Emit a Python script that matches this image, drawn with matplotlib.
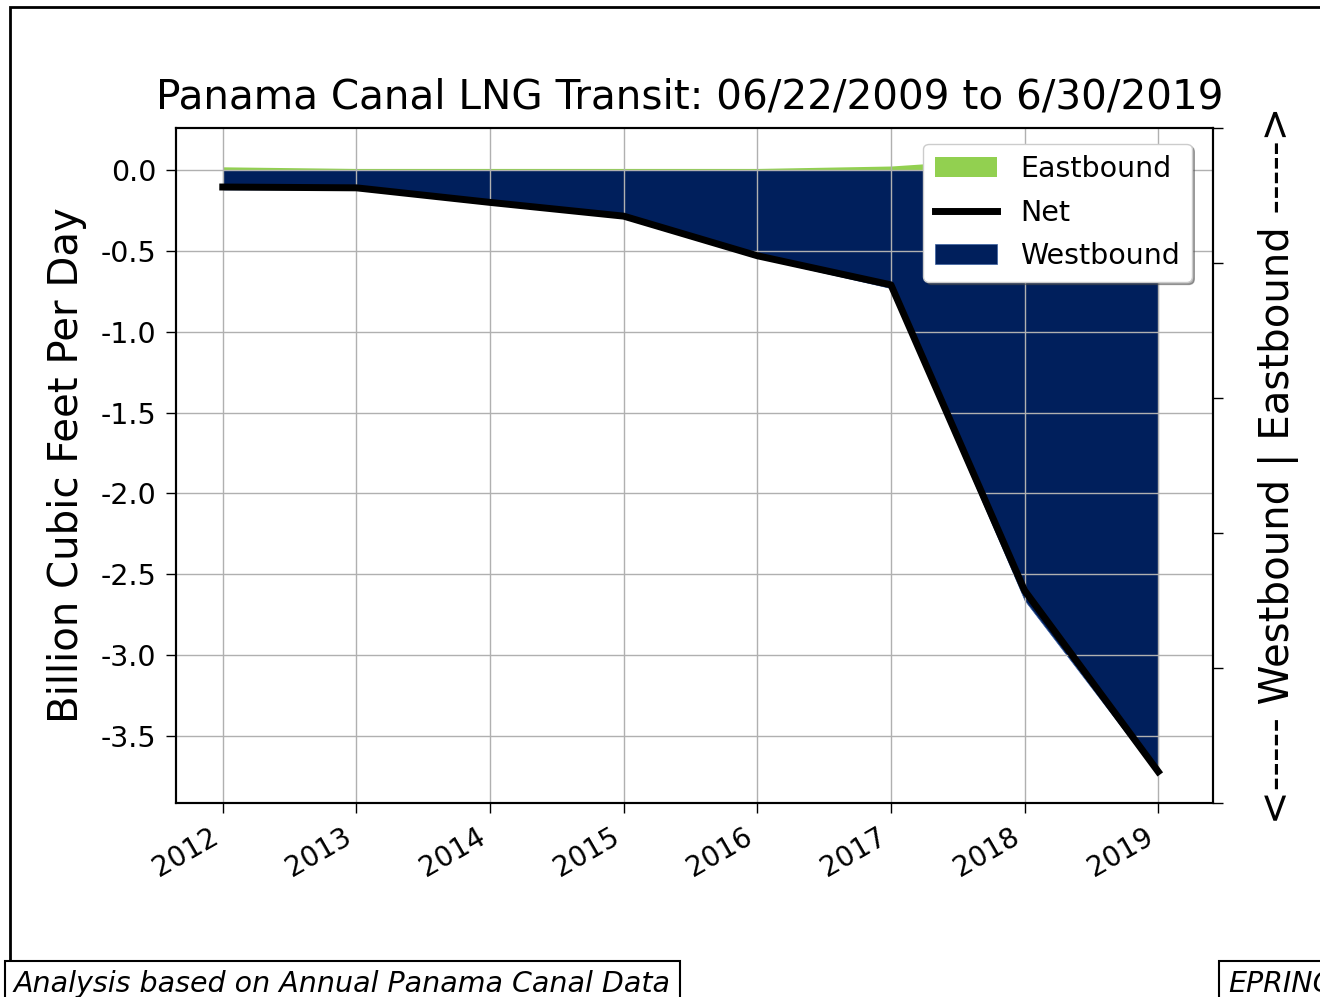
import matplotlib
matplotlib.use("Agg")
import matplotlib.pyplot as plt
from matplotlib.patches import Rectangle

years = [2012, 2013, 2014, 2015, 2016, 2017, 2018, 2019]
net = [-0.105, -0.11, -0.20, -0.285, -0.53, -0.71, -2.60, -3.72]
eastbound = [0.02, 0.01, 0.01, 0.01, 0.01, 0.025, 0.08, 0.03]
westbound = [-0.12, -0.12, -0.21, -0.29, -0.54, -0.73, -2.66, -3.74]
yticks = [0.0, -0.5, -1.0, -1.5, -2.0, -2.5, -3.0, -3.5]

fig = plt.figure(figsize=(13.2, 9.97), dpi=100)
ax = fig.add_axes([176/1320, 1-803/997, (1213-176)/1320, (803-128)/997])

ax.fill_between(years, 0, eastbound, color='#92d050', label='Eastbound', linewidth=0)
ax.fill_between(years, 0, westbound, color='#001f5c', label='Westbound', linewidth=0.5, edgecolor='#3a5fa0')
ax.plot(years, net, color='black', linewidth=5, label='Net')
ax.grid(True, color='#b0b0b0', linewidth=1.0)

ax.set_xlim(2011.65, 2019.41)
ax.set_ylim(-3.914, 0.26)
ax.set_xticks(years)
ax.set_xticklabels([str(y) for y in years], rotation=30, ha='right', fontsize=20)
ax.set_yticks(yticks)
ax.set_yticklabels(['%.1f' % v for v in yticks], fontsize=20.5)
ax.tick_params(length=7, width=1, pad=7)
for s in ax.spines.values():
    s.set_linewidth(1.5)
ax.set_ylabel('Billion Cubic Feet Per Day', fontsize=29, labelpad=10)
ax.set_title('Panama Canal LNG Transit: 06/22/2009 to 6/30/2019', fontsize=29.2, pad=14,
             x=0.495)

h, l = ax.get_legend_handles_labels()
order = [l.index('Eastbound'), l.index('Net'), l.index('Westbound')]
leg = ax.legend([h[i] for i in order], [l[i] for i in order], loc='upper right',
                fontsize=20.5, shadow=True, fancybox=True, framealpha=1.0,
                handlelength=2.2, labelspacing=0.55, bbox_to_anchor=(0.993, 0.998))

ax2 = ax.twinx()
ax2.set_ylim(0, 1)
ax2.set_yticks([0, 0.2, 0.4, 0.6, 0.8, 1.0])
ax2.set_yticklabels([])
ax2.tick_params(length=7, width=1)
for s in ax2.spines.values():
    s.set_linewidth(1.5)
ax2.set_ylabel('<----- Westbound | Eastbound ----->', fontsize=29, labelpad=22)

# figure frame
fig.patches.append(Rectangle((10/1320, -0.1), 2.0, 1.1 - 7/997, transform=fig.transFigure,
                             fill=False, edgecolor='black', linewidth=2))

fig.text(14/1320, -0.001, 'Analysis based on Annual Panama Canal Data', fontsize=20.5,
         style='italic', ha='left', va='bottom',
         bbox=dict(boxstyle='square,pad=0.3', facecolor='white', edgecolor='black', linewidth=1.5))
fig.text(1228/1320, -0.001, 'EPRINC', fontsize=20.5,
         style='italic', ha='left', va='bottom',
         bbox=dict(boxstyle='square,pad=0.3', facecolor='white', edgecolor='black', linewidth=1.5))

fig.savefig('out.png', dpi=100)
